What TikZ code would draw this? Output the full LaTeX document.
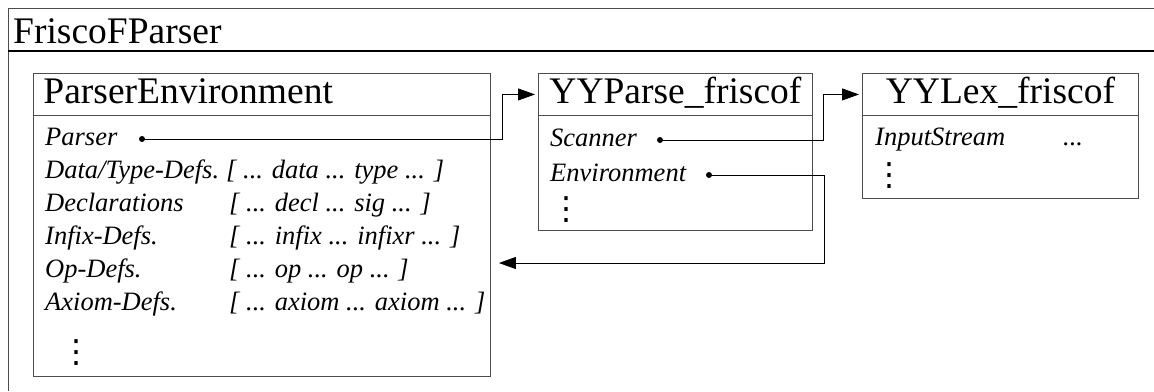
\documentclass[tikz,border=0pt]{standalone}
\usepackage{fontspec}
\setmainfont{Liberation Serif}
\newfontfamily\dotsfont{DejaVu Sans}
\usepackage{tikz}
\usetikzlibrary{arrows.meta}
\definecolor{boxgray}{gray}{0.3}
\tikzset{
    classhead/.style = {draw=boxgray, line width=0.9pt, anchor=north west, minimum height=42pt,
        inner ysep=0pt, text height=27pt, text depth=9pt, font=\fontsize{37.5}{40}\selectfont},
    classbody/.style = {draw=boxgray, line width=0.9pt, anchor=north west, inner sep=0pt},
    attr/.style = {anchor=base west, inner sep=0pt, font=\fontsize{26.5}{28}\selectfont\itshape},
    moredots/.style = {anchor=base, inner sep=0pt, font=\fontsize{32}{34}\dotsfont},
    refdot/.style = {circle, fill, inner sep=0pt, minimum size=6pt},
    link/.style = {line width=0.9pt, -{Triangle[length=17pt, width=12pt]}}
}

\begin{document}
\begin{tikzpicture}[x=1pt, y=-1pt]
        \useasboundingbox (0, 0) rectangle (1154, 391);
        % draw outer frame of FriscoFParser
        \draw[boxgray, line width=0.9pt] (8, 391) -- (8, 8) -- (1154, 8);
        \draw[line width=1.6pt] (8, 51) -- (1154, 51);
        \node[anchor=base west, inner sep=0pt, font=\fontsize{37.5}{40}\selectfont] (frisco) at (13, 43) {FriscoFParser};
        % ParserEnvironment class
        \node[classhead, minimum width=457pt, inner xsep=10pt, text width=437pt, align=left] (penvhead) at (33, 73) {ParserEnvironment};
        \node[classbody, minimum width=457pt, minimum height=261pt] (penvbody) at (33, 115) {};
        \node[attr] (pparser) at (45, 145) {Parser};
        \node[refdot] (pdot) at (142, 139) {};
        \node[attr] (pdata) at (45, 178) {Data/Type-Defs.};
        \node[attr] (pdataval) at (226, 178) {[ ... data ... type ... ]};
        \node[attr] (pdecl) at (45, 211) {Declarations};
        \node[attr] (pdeclval) at (229, 211) {[ ... decl ... sig ... ]};
        \node[attr] (pinfix) at (45, 244) {Infix-Defs.};
        \node[attr] (pinfixval) at (229, 244) {[ ... infix ... infixr ... ]};
        \node[attr] (pop) at (45, 277) {Op-Defs.};
        \node[attr] (popval) at (229, 277) {[ ... op ... op ... ]};
        \node[attr] (paxiom) at (45, 310) {Axiom-Defs.};
        \node[attr] (paxiomval) at (229, 310) {[ ... axiom ... axiom ... ]};
        \node[moredots] (pdots) at (76, 362) {⋮};
        % YYParse_friscof class
        \node[classhead, minimum width=274pt, inner xsep=0pt] (yyphead) at (538, 73) {YYParse\_friscof};
        \node[classbody, minimum width=274pt, minimum height=115pt] (yypbody) at (538, 115) {};
        \node[attr] (yypscan) at (550, 146) {Scanner};
        \node[refdot] (sdot) at (660, 140) {};
        \node[attr] (yypenv) at (550, 181) {Environment};
        \node[refdot] (edot) at (709, 175) {};
        \node[moredots] (yypdots) at (566, 219) {⋮};
        % YYLex_friscof class
        \node[classhead, minimum width=276pt, inner xsep=0pt] (ylhead) at (862, 73) {YYLex\_friscof};
        \node[classbody, minimum width=276pt, minimum height=83pt] (ylbody) at (862, 115) {};
        \node[attr] (ylinput) at (875, 145) {InputStream};
        \node[attr] (ylmore) at (1063, 145) {...};
        \node[moredots] (yldots) at (889, 185) {⋮};
        % draw references between the classes
        \coordinate (bendE) at (824, 263);
        \draw[link, shorten >=3pt] (pdot.center) -| ([xshift=-36pt]yyphead.west) -- (yyphead.west);
        \draw[link, shorten >=3pt] (sdot.center) -| ([xshift=-39pt]ylhead.west) -- (ylhead.west);
        \draw[link, shorten >=8pt] (edot.center) -| (bendE) -- (penvbody.east |- bendE);
    \end{tikzpicture}
\end{document}
